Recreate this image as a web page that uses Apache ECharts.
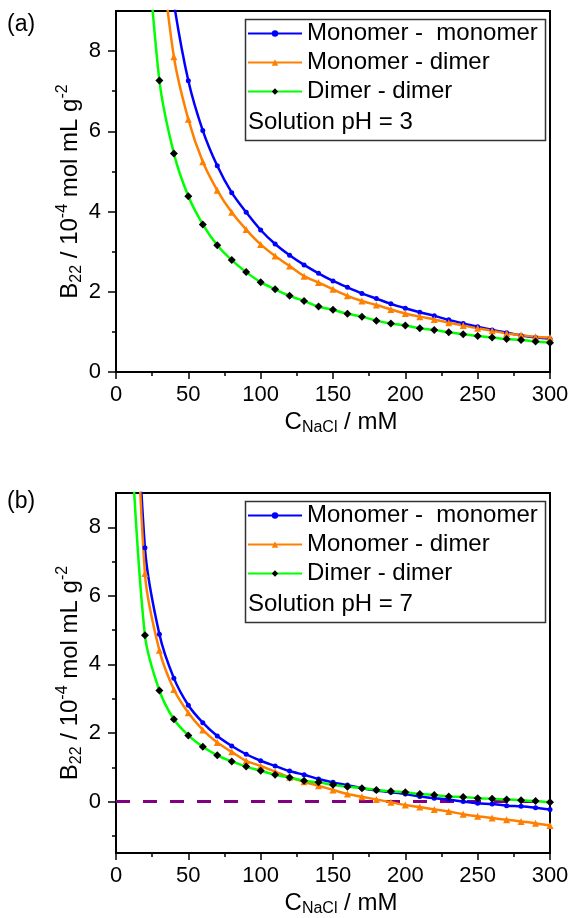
<!DOCTYPE html>
<html>
<head>
<meta charset="utf-8">
<script src="https://cdn.jsdelivr.net/npm/echarts@6/dist/echarts.min.js"></script>
<style>
  html, body { margin: 0; padding: 0; background: #fff; }
  #chart { width: 574px; height: 918px; }
</style>
</head>
<body>
<div id="chart"></div>
<script>
// NaCl concentration (mM), one marker every 10 mM
const concentration = [10, 20, 30, 40, 50, 60, 70, 80, 90, 100, 110, 120, 130, 140, 150,
  160, 170, 180, 190, 200, 210, 220, 230, 240, 250, 260, 270, 280, 290, 300];

// B22 (10^-4 mol mL g^-2), pH 3
const ph3MonoMono = [null, null, 11.8, 9.2, 7.26, 6.02, 5.14, 4.47, 3.98, 3.54, 3.19, 2.91, 2.67, 2.46, 2.27,
  2.11, 1.96, 1.83, 1.70, 1.59, 1.49, 1.40, 1.30, 1.21, 1.13, 1.05, 0.98, 0.91, 0.86, 0.83];
const ph3MonoDimer = [null, null, 10.9, 7.86, 6.30, 5.24, 4.53, 3.98, 3.55, 3.18, 2.89, 2.64, 2.39, 2.23, 2.06,
  1.90, 1.77, 1.67, 1.56, 1.46, 1.38, 1.31, 1.23, 1.16, 1.09, 1.03, 0.96, 0.92, 0.88, 0.86];
const ph3DimerDimer = [null, 11.6, 7.27, 5.45, 4.38, 3.68, 3.16, 2.79, 2.49, 2.24, 2.06, 1.90, 1.77, 1.63, 1.55,
  1.45, 1.38, 1.28, 1.21, 1.16, 1.09, 1.05, 0.99, 0.94, 0.90, 0.86, 0.82, 0.80, 0.76, 0.73];

// B22 (10^-4 mol mL g^-2), pH 7
const ph7MonoMono = [16.5, 7.40, 4.88, 3.60, 2.81, 2.30, 1.91, 1.62, 1.38, 1.19, 1.04, 0.89, 0.78, 0.66, 0.56,
  0.48, 0.39, 0.32, 0.27, 0.22, 0.15, 0.10, 0.06, 0.00, -0.05, -0.07, -0.12, -0.14, -0.18, -0.23];
const ph7MonoDimer = [16.5, 6.65, 4.41, 3.27, 2.59, 2.09, 1.72, 1.45, 1.19, 1.04, 0.87, 0.71, 0.58, 0.46, 0.34,
  0.22, 0.14, 0.06, -0.02, -0.10, -0.16, -0.23, -0.29, -0.37, -0.43, -0.48, -0.53, -0.58, -0.63, -0.70];
const ph7DimerDimer = [11.0, 4.85, 3.24, 2.40, 1.93, 1.60, 1.35, 1.17, 1.02, 0.90, 0.78, 0.70, 0.61, 0.56, 0.49,
  0.43, 0.39, 0.34, 0.30, 0.27, 0.22, 0.19, 0.15, 0.13, 0.10, 0.08, 0.06, 0.04, 0.02, -0.02];

// zero reference line in panel (b)
const zeroLineX = [0, 300];
const zeroLineY = [0, 0];

const seriesNames = ['Monomer -  monomer', 'Monomer - dimer', 'Dimer - dimer'];
const yTicksA = [0, 2, 4, 6, 8];
const yMinorA = [1, 3, 5, 7];
const yTicksB = [0, 2, 4, 6, 8];
const yMinorB = [-1, 1, 3, 5, 7];

const FONT = '"Liberation Sans", Arial, sans-serif';
const pairs = (xs, ys) => xs.map((x, i) => [x, ys[i]]).filter(p => p[1] != null);

const styles = [
  { color: '#0000ff', symbol: 'circle', size: 5, mark: '#0000ff' },
  { color: '#ff8000', symbol: 'triangle', size: 7, mark: '#ff8000' },
  { color: '#00ff00', symbol: 'diamond', size: 8, mark: '#000000' }
];

function curve(name, data, idx, st) {
  return {
    name: name,
    type: 'line',
    xAxisIndex: idx,
    yAxisIndex: idx * 2,
    data: data,
    smooth: 0.3,
    clip: true,
    symbol: st.symbol,
    symbolSize: st.size,
    showAllSymbol: true,
    lineStyle: { color: st.color, width: 2.5 },
    itemStyle: { color: st.mark },
    emphasis: { disabled: true },
    z: 3
  };
}

function xAxis(idx) {
  return {
    type: 'value', gridIndex: idx, min: 0, max: 300, interval: 50,
    axisLine: { onZero: false, lineStyle: { color: '#000', width: 2 } },
    axisTick: { inside: false, length: 7, lineStyle: { color: '#000', width: 1.5 } },
    minorTick: { show: true, splitNumber: 2, length: 4, lineStyle: { color: '#000', width: 1.5 } },
    splitLine: { show: false },
    axisLabel: { fontSize: 22, fontFamily: FONT, color: '#000', margin: 12 },
    name: '{m|C}{sub|NaCl}{m| / mM}',
    nameLocation: 'middle',
    nameGap: 36,
    nameMoveOverlap: false,
    nameTextStyle: {
      fontFamily: FONT, color: '#000', padding: [0, 0, 0, 16],
      rich: {
        m: { fontSize: 24, lineHeight: 28, fontFamily: FONT, color: '#000' },
        sub: { fontSize: 16, lineHeight: 16, verticalAlign: 'bottom', fontFamily: FONT, color: '#000' }
      }
    }
  };
}

function yAxes(idx, min, major, minor) {
  return [{
    type: 'value', gridIndex: idx, min: min, max: 9, position: 'left',
    axisLine: { show: true, onZero: false, lineStyle: { color: '#000', width: 2 } },
    axisTick: { show: true, inside: false, length: 8, customValues: major, lineStyle: { color: '#000', width: 1.5 } },
    splitLine: { show: false },
    axisLabel: { fontSize: 22, fontFamily: FONT, color: '#000', margin: 15, customValues: major },
    name: '{m|B}{sub|22}{m| / 10}{sup|-4}{m| mol mL g}{sup|-2}',
    nameLocation: 'middle',
    nameRotate: 90,
    nameGap: 31,
    nameMoveOverlap: false,
    nameTextStyle: {
      fontFamily: FONT, color: '#000',
      rich: {
        m: { fontSize: 24, lineHeight: 30, fontFamily: FONT, color: '#000' },
        sub: { fontSize: 16, lineHeight: 16, verticalAlign: 'bottom', fontFamily: FONT, color: '#000' },
        sup: { fontSize: 16, lineHeight: 16, verticalAlign: 'top', fontFamily: FONT, color: '#000' }
      }
    }
  }, {
    type: 'value', gridIndex: idx, min: min, max: 9, position: 'left', offset: 0,
    axisLine: { show: false, onZero: false },
    axisTick: { show: true, inside: false, length: 4, customValues: minor, lineStyle: { color: '#000', width: 1.5 } },
    splitLine: { show: false },
    axisLabel: { show: false }
  }];
}

function legend(top) {
  return {
    orient: 'vertical', left: 247, top: top,
    data: seriesNames,
    itemWidth: 54, itemHeight: 8, itemGap: 0,
    padding: 0,
    selectedMode: false,
    z: 20,
    textStyle: { fontSize: 24, lineHeight: 29, fontFamily: FONT, color: '#000' }
  };
}

function legendBox(top, label) {
  return [{
    type: 'rect', left: 243, top: top, silent: true, z: 1,
    shape: { width: 300, height: 121 },
    style: { fill: null, stroke: '#333', lineWidth: 1.5 }
  }, {
    type: 'text', left: 248, top: top + 93, silent: true, z: 12,
    style: { text: label, fontSize: 24, fontFamily: FONT, fill: '#000' }
  }];
}

const chart = echarts.init(document.getElementById('chart'), null, { renderer: 'canvas' });

chart.setOption({
  animation: false,
  backgroundColor: '#fff',
  grid: [
    { left: 116, top: 11, width: 434, height: 361, show: true, borderColor: '#000', borderWidth: 2, backgroundColor: 'transparent' },
    { left: 116, top: 493, width: 434, height: 361, show: true, borderColor: '#000', borderWidth: 2, backgroundColor: 'transparent' }
  ],
  xAxis: [xAxis(0), xAxis(1)],
  yAxis: yAxes(0, 0, yTicksA, yMinorA).concat(yAxes(1, -1.5, yTicksB, yMinorB)),
  legend: [legend(19), legend(501)],
  graphic: [
    { type: 'text', left: 7, top: 13, style: { text: '(a)', fontSize: 23, fontFamily: FONT, fill: '#000' } },
    { type: 'text', left: 7, top: 490, style: { text: '(b)', fontSize: 23, fontFamily: FONT, fill: '#000' } }
  ].concat(legendBox(17, 'Solution pH = 3'), legendBox(499, 'Solution pH = 7')),
  series: [
    {
      name: 'zero', type: 'line', xAxisIndex: 1, yAxisIndex: 2,
      data: pairs(zeroLineX, zeroLineY), symbol: 'none', z: 2, smooth: false,
      lineStyle: { color: '#800080', width: 3, type: [14, 13] },
      itemStyle: { color: '#800080' },
      emphasis: { disabled: true }
    },
    curve(seriesNames[0], pairs(concentration, ph3MonoMono), 0, styles[0]),
    curve(seriesNames[1], pairs(concentration, ph3MonoDimer), 0, styles[1]),
    curve(seriesNames[2], pairs(concentration, ph3DimerDimer), 0, styles[2]),
    curve(seriesNames[0], pairs(concentration, ph7MonoMono), 1, styles[0]),
    curve(seriesNames[1], pairs(concentration, ph7MonoDimer), 1, styles[1]),
    curve(seriesNames[2], pairs(concentration, ph7DimerDimer), 1, styles[2])
  ]
});
</script>
</body>
</html>
